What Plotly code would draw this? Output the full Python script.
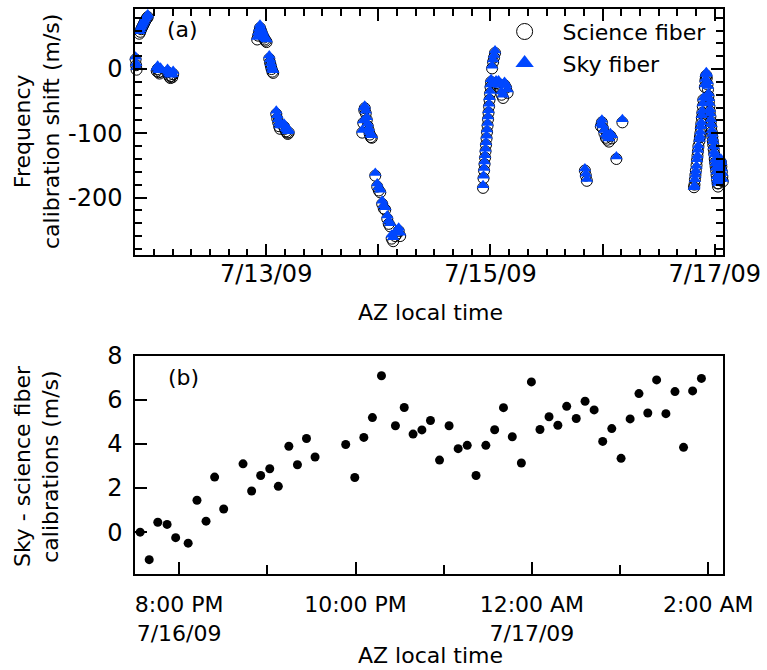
import plotly.graph_objects as go

FONT = "DejaVu Sans"
BLUE = "#0047FF"

# ---------------- panel (a): calibration shifts, nights of 7/11 - 7/15 ----------------
times_a = [
    # night 7/11
    "2009-07-11 20:04", "2009-07-11 20:10", "2009-07-11 20:16",
    "2009-07-11 20:52", "2009-07-11 21:04", "2009-07-11 21:16", "2009-07-11 21:28", "2009-07-11 21:40",
    "2009-07-11 21:52", "2009-07-11 22:04", "2009-07-11 22:16", "2009-07-11 22:28", "2009-07-11 22:40",
    "2009-07-12 00:35", "2009-07-12 00:47", "2009-07-12 00:59", "2009-07-12 01:11", "2009-07-12 01:23",
    "2009-07-12 02:54", "2009-07-12 03:06", "2009-07-12 03:18", "2009-07-12 03:30", "2009-07-12 03:42",
    "2009-07-12 03:54", "2009-07-12 04:06",
    # night 7/12
    "2009-07-12 22:05", "2009-07-12 22:17", "2009-07-12 22:29", "2009-07-12 22:41", "2009-07-12 22:53",
    "2009-07-12 23:05", "2009-07-12 23:17", "2009-07-12 23:29", "2009-07-12 23:41", "2009-07-12 23:53",
    "2009-07-13 00:05",
    "2009-07-13 00:40", "2009-07-13 00:50", "2009-07-13 01:00", "2009-07-13 01:10", "2009-07-13 01:20",
    "2009-07-13 01:30",
    "2009-07-13 02:10", "2009-07-13 02:22", "2009-07-13 02:34", "2009-07-13 02:46", "2009-07-13 02:58",
    "2009-07-13 03:50", "2009-07-13 04:02", "2009-07-13 04:14", "2009-07-13 04:26", "2009-07-13 04:38",
    "2009-07-13 04:50",
    # night 7/13
    "2009-07-13 20:34", "2009-07-13 20:47", "2009-07-13 21:00", "2009-07-13 21:06", "2009-07-13 21:19",
    "2009-07-13 21:32", "2009-07-13 21:45", "2009-07-13 21:58", "2009-07-13 22:11", "2009-07-13 22:24",
    "2009-07-13 22:37",
    "2009-07-13 23:21", "2009-07-13 23:46", "2009-07-14 00:06", "2009-07-14 00:25", "2009-07-14 00:50",
    "2009-07-14 01:10", "2009-07-14 01:29", "2009-07-14 01:55", "2009-07-14 02:14", "2009-07-14 02:33",
    "2009-07-14 02:52", "2009-07-14 03:11", "2009-07-14 03:37", "2009-07-14 04:03", "2009-07-14 04:22",
    "2009-07-14 04:41",
    # night 7/14
    "2009-07-14 22:25", "2009-07-14 22:31", "2009-07-14 22:38", "2009-07-14 22:44", "2009-07-14 22:51",
    "2009-07-14 22:57", "2009-07-14 23:03", "2009-07-14 23:10", "2009-07-14 23:16", "2009-07-14 23:23",
    "2009-07-14 23:29", "2009-07-14 23:35", "2009-07-14 23:42", "2009-07-14 23:48", "2009-07-14 23:55",
    "2009-07-15 00:01", "2009-07-15 00:08",
    "2009-07-15 00:21", "2009-07-15 00:34", "2009-07-15 00:46", "2009-07-15 00:59", "2009-07-15 01:12",
    "2009-07-15 01:25", "2009-07-15 01:44", "2009-07-15 02:03", "2009-07-15 02:23", "2009-07-15 02:42",
    "2009-07-15 03:01", "2009-07-15 03:20", "2009-07-15 03:40",
    # night 7/15
    "2009-07-15 20:13", "2009-07-15 20:25", "2009-07-15 20:38",
    "2009-07-15 23:38", "2009-07-15 23:51", "2009-07-16 00:04", "2009-07-16 00:23", "2009-07-16 00:42",
    "2009-07-16 01:01", "2009-07-16 01:21", "2009-07-16 01:40", "2009-07-16 01:59", "2009-07-16 02:57",
    "2009-07-16 04:14",
]
sci_a = [
    15, 6, -1,
    55, 58, 62, 65, 68, 71, 74, 77, 79, 81,
    -3, 0, -5, -7, -4,
    -5, -9, -12, -14, -11, -13, -8,
    46, 52, 58, 64, 60, 56, 52, 49, 46, 44, 42,
    16, 10, 5, 0, -4, -6,
    -70, -77, -83, -89, -93,
    -90, -93, -97, -99, -101, -99,
    -99, -84, -64, -61, -69, -79, -89, -96, -102, -106, -107,
    -166, -183, -189, -192, -210, -217, -219, -233, -241, -245, -264, -268, -260, -256, -252, -260,
    -185, -170, -158, -148, -138, -128, -118, -108, -98, -88, -78, -68, -58, -48, -38, -28, -20,
    1, 11, 18, 25, -22, -26, -23, -30, -40, -45, -25, -29, -37,
    -158, -166, -174,
    -89, -83, -92, -100, -107, -110, -113, -104, -108, -140, -83,
]
sky_a = [
    19, 9, 3,
    59, 62, 66, 69, 72, 75, 78, 81, 83, 85,
    2, 5, -1, -2, 2,
    0, -4, -7, -9, -6, -8, -3,
    50, 57, 63, 69, 64, 60, 57, 53, 50, 48, 46,
    21, 15, 9, 4, 0, -2,
    -65, -72, -78, -84, -88,
    -85, -88, -92, -94, -97, -95,
    -95, -80, -60, -57, -65, -75, -85, -92, -98, -102, -103,
    -162, -178, -184, -188, -205, -212, -215, -228, -236, -240, -258, -262, -255, -250, -247, -255,
    -181, -166, -154, -144, -134, -124, -114, -104, -94, -84, -74, -64, -54, -44, -34, -24, -16,
    5, 15, 22, 29, -18, -22, -18, -25, -35, -40, -20, -25, -32,
    -155, -163, -171,
    -85, -79, -88, -95, -102, -105, -108, -100, -103, -136, -78,
]

# ---------------- night of 7/16 (panel b timestamps, also shown in panel a) ----------------
times_b = [
    "2009-07-16 19:33:30", "2009-07-16 19:39:40", "2009-07-16 19:45:30", "2009-07-16 19:51:50",
    "2009-07-16 19:57:40", "2009-07-16 20:06:10", "2009-07-16 20:12:10", "2009-07-16 20:18:20",
    "2009-07-16 20:24:10", "2009-07-16 20:30:20", "2009-07-16 20:43:30", "2009-07-16 20:49:20",
    "2009-07-16 20:55:30", "2009-07-16 21:01:40", "2009-07-16 21:07:30", "2009-07-16 21:14:40",
    "2009-07-16 21:20:30", "2009-07-16 21:26:40", "2009-07-16 21:32:30", "2009-07-16 21:53:20",
    "2009-07-16 21:59:30", "2009-07-16 22:05:40", "2009-07-16 22:11:30", "2009-07-16 22:17:40",
    "2009-07-16 22:27:10", "2009-07-16 22:33:10", "2009-07-16 22:39:10", "2009-07-16 22:45:10",
    "2009-07-16 22:51:00", "2009-07-16 22:57:10", "2009-07-16 23:03:40", "2009-07-16 23:09:50",
    "2009-07-16 23:16:00", "2009-07-16 23:22:00", "2009-07-16 23:28:40", "2009-07-16 23:34:40",
    "2009-07-16 23:40:40", "2009-07-16 23:46:40", "2009-07-16 23:52:50", "2009-07-16 23:59:40",
    "2009-07-17 00:05:30", "2009-07-17 00:11:40", "2009-07-17 00:17:40", "2009-07-17 00:23:40",
    "2009-07-17 00:30:10", "2009-07-17 00:36:10", "2009-07-17 00:42:20", "2009-07-17 00:48:10",
    "2009-07-17 00:54:20", "2009-07-17 01:00:40", "2009-07-17 01:06:50", "2009-07-17 01:12:50",
    "2009-07-17 01:18:50", "2009-07-17 01:24:50", "2009-07-17 01:31:10", "2009-07-17 01:37:20",
    "2009-07-17 01:43:10", "2009-07-17 01:49:20", "2009-07-17 01:55:20",
]
diff_b = [
    0.0, -1.25, 0.45, 0.35, -0.25, -0.5, 1.45, 0.5, 2.5, 1.05,
    3.1, 1.87, 2.57, 2.88, 2.08, 3.9, 3.06, 4.25, 3.41, 3.98,
    2.48, 4.3, 5.2, 7.1, 4.83, 5.66, 4.45, 4.64, 5.07, 3.27,
    4.83, 3.79, 3.94, 2.57, 3.94, 4.65, 5.65, 4.33, 3.14, 6.82,
    4.66, 5.24, 4.85, 5.71, 5.16, 5.94, 5.55, 4.12, 4.70, 3.35,
    5.14, 6.29, 5.41, 6.91, 5.38, 6.38, 3.85, 6.41, 6.98,
]
sci_k = [
    -184, -180, -172, -165, -158, -150, -142, -135, -128, -120,
    -112, -106, -100, -92, -85, -76, -68, -58, -48, -28,
    -18, -12, -10, -14, -24, -32, -42, -50, -58, -66,
    -74, -82, -90, -98, -105, -112, -118, -125, -132, -140,
    -146, -152, -158, -165, -172, -178, -183, -178, -170, -162,
    -155, -148, -145, -152, -160, -168, -175, -165, -155,
]
sky_k = [s + d for s, d in zip(sci_k, diff_b)]

times_all = times_a + times_b
sci_all = sci_a + sci_k
sky_all = sky_a + sky_k

# tick labels
a_tickvals = ["2009-07-13", "2009-07-14", "2009-07-15", "2009-07-16", "2009-07-17"]
a_ticktext = ["7/13/09", "", "7/15/09", "", "7/17/09"]
b_tickvals = ["2009-07-16 20:00", "2009-07-16 22:00", "2009-07-17 00:00", "2009-07-17 02:00"]
b_ticktext = ["8:00 PM<br>7/16/09", "10:00 PM", "12:00 AM<br>7/17/09", "2:00 AM"]
b_minorvals = ["2009-07-16 21:00", "2009-07-16 23:00", "2009-07-17 01:00"]

fig = go.Figure()
fig.add_trace(go.Scatter(
    x=times_all, y=sci_all, mode="markers", showlegend=False, cliponaxis=False,
    marker=dict(symbol="circle-open", size=11, color="black", line=dict(width=1, color="black")),
    xaxis="x", yaxis="y"))
fig.add_trace(go.Scatter(
    x=times_all, y=sky_all, mode="markers", showlegend=False, cliponaxis=False,
    marker=dict(symbol="triangle-up", size=11, color=BLUE, line=dict(width=0)),
    xaxis="x", yaxis="y"))
fig.add_trace(go.Scatter(
    x=[None], y=[None], mode="markers", name="Science fiber",
    marker=dict(symbol="circle-open", size=16, color="black", line=dict(width=1, color="black")),
    xaxis="x", yaxis="y"))
fig.add_trace(go.Scatter(
    x=[None], y=[None], mode="markers", name="Sky fiber",
    marker=dict(symbol="triangle-up", size=17, color=BLUE, line=dict(width=0)),
    xaxis="x", yaxis="y"))
fig.add_trace(go.Scatter(
    x=times_b, y=diff_b, mode="markers", showlegend=False, cliponaxis=False,
    marker=dict(symbol="circle", size=9, color="black"),
    xaxis="x2", yaxis="y2"))

numfont = dict(family=FONT, size=24, color="black")
txtfont = dict(family=FONT, size=22, color="black")
common = dict(showline=True, linecolor="black", linewidth=1.5, ticks="inside", tickcolor="black",
              tickwidth=1.5, showgrid=False, zeroline=False, automargin=False)

fig.update_layout(
    width=767, height=670,
    margin=dict(l=135, r=44, t=9, b=96, autoexpand=False),
    paper_bgcolor="white", plot_bgcolor="white",
    font=txtfont,
    xaxis=dict(domain=[0, 1], anchor="y", type="date",
               range=["2009-07-11 19:56", "2009-07-17 01:46"],
               tickmode="array", tickvals=a_tickvals, ticktext=a_ticktext,
               ticklen=12, mirror="allticks", tickfont=numfont, ticklabelstandoff=-4,
               minor=dict(dtick=4 * 3600 * 1000, tick0="2009-07-11 00:00", ticks="inside",
                          ticklen=7, tickwidth=1.5, tickcolor="black", showgrid=False),
               **common),
    yaxis=dict(domain=[0.564, 1], anchor="x", range=[-290, 93.5],
               tickmode="array", tickvals=[-200, -100, 0], ticktext=["-200", "-100", "0"],
               ticklen=12, mirror="allticks", ticklabelstandoff=6, tickfont=numfont,
               minor=dict(dtick=20, tick0=0, ticks="inside", ticklen=7, tickwidth=1.5,
                          tickcolor="black", showgrid=False),
               **common),
    xaxis2=dict(domain=[0, 1], anchor="y2", type="date",
                range=["2009-07-16 19:30", "2009-07-17 02:10"],
                tickmode="array", tickvals=b_tickvals, ticktext=b_ticktext,
                ticklen=12, mirror=True, tickfont=txtfont, ticklabelstandoff=10,
                minor=dict(tickmode="array", tickvals=b_minorvals, ticks="inside", ticklen=9,
                           tickwidth=1.5, tickcolor="black", showgrid=False),
                **common),
    yaxis2=dict(domain=[0, 0.386], anchor="x2", range=[-1.9, 8],
                tickmode="array", tickvals=[0, 2, 4, 6, 8], ticktext=["0", "2", "4", "6", "8"],
                ticklen=12, mirror=True, ticklabelstandoff=6, tickfont=numfont,
                **common),
    legend=dict(x=0.598, xanchor="left", y=0.997, yanchor="top", bgcolor="rgba(0,0,0,0)",
                borderwidth=0, itemwidth=66, font=txtfont, tracegroupgap=0),
    annotations=[
        dict(text="(a)", xref="paper", yref="paper", x=0.08, y=0.963, showarrow=False,
             xanchor="center", yanchor="middle", font=txtfont),
        dict(text="(b)", xref="paper", yref="paper", x=0.083, y=0.347, showarrow=False,
             xanchor="center", yanchor="middle", font=txtfont),
        dict(text="AZ local time", xref="paper", yref="paper", x=0.502, y=0.4637, showarrow=False,
             xanchor="center", yanchor="middle", font=txtfont),
        dict(text="AZ local time", xref="paper", yref="paper", x=0.502, y=-0.145, showarrow=False,
             xanchor="center", yanchor="middle", font=txtfont),
        dict(text="Frequency<br>calibration shift (m/s)", xref="paper", yref="paper",
             x=-0.1667, y=0.784, showarrow=False, textangle=-90,
             xanchor="center", yanchor="middle", font=txtfont),
        dict(text="Sky - science fiber<br>calibrations (m/s)", xref="paper", yref="paper",
             x=-0.1667, y=0.191, showarrow=False, textangle=-90,
             xanchor="center", yanchor="middle", font=txtfont),
    ],
)

fig.write_html("out.html", config={"displayModeBar": False},
               post_script="document.body.style.margin='0px';")
